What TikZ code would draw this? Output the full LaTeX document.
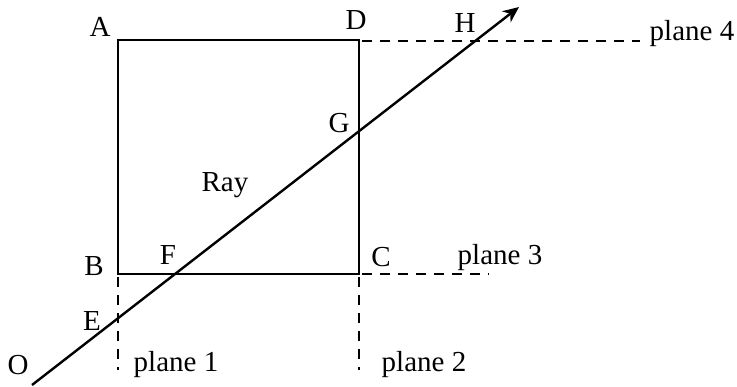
\documentclass[tikz,border=0pt]{standalone}
\usepackage{fontspec}
\setmainfont{Liberation Serif}
\usetikzlibrary{arrows.meta,positioning,calc}
\tikzset{
  pt label/.style={
    font=\fontsize{14.5}{17}\selectfont,
    inner sep=0pt,
  },
  box edge/.style={
    line width=1.2pt,
    line join=miter,
  },
  plane line/.style={
    line width=1.1pt,
    dash pattern=on 5pt off 4pt,
  },
  ray arrow/.style={
    -{Stealth[length=8pt,width=7pt,inset=2.5pt]},
    line width=1.2pt,
  },
}

\begin{document}
\begin{tikzpicture}[x=0.5pt,y=-0.5pt]
  \useasboundingbox (0,0) rectangle (737,386);

  % Square (cell)
  \coordinate (A) at (118,40);
  \coordinate (B) at (118,274);
  \coordinate (C) at (359,274);
  \coordinate (D) at (359,40);
  \draw[box edge] (A) -- (D) -- (C) -- (B) -- cycle;

  % Planes
  \coordinate (plane4end) at (640,41);
  \coordinate (plane3end) at (489,274);
  \coordinate (plane1end) at (118,370);
  \coordinate (plane2end) at (359,370);
  \draw[plane line] ($(D)+(3,1)$) -- (plane4end);
  \draw[plane line] ($(C)+(3,0)$) -- (plane3end);
  \draw[plane line] ($(B)+(0,3)$) -- (plane1end);
  \draw[plane line] ($(C)+(0,3)$) -- (plane2end);

  % Ray
  \coordinate (O) at (32,385);
  \coordinate (tip) at (519,7);
  \draw[ray arrow] (O) -- (tip);

  % Labels
  \node[pt label] (labA) at (100,27) {A};
  \node[pt label] (labD) at (356,20) {D};
  \node[pt label] (labH) at (465,23) {H};
  \node[pt label] (labG) at (339,123) {G};
  \node[pt label] (labRay) at (225,185) {Ray};
  \node[pt label] (labB) at (94,266) {B};
  \node[pt label] (labF) at (168,255) {F};
  \node[pt label] (labC) at (381,257) {C};
  \node[pt label] (labE) at (92,321) {E};
  \node[pt label] (labO) at (18,365) {O};
  \node[pt label] (plane1) at (176,365) {plane 1};
  \node[pt label] (plane2) at (424,365) {plane 2};
  \node[pt label] (plane3) at (500,258) {plane 3};
  \node[pt label] (plane4) at (692,34) {plane 4};
\end{tikzpicture}
\end{document}
